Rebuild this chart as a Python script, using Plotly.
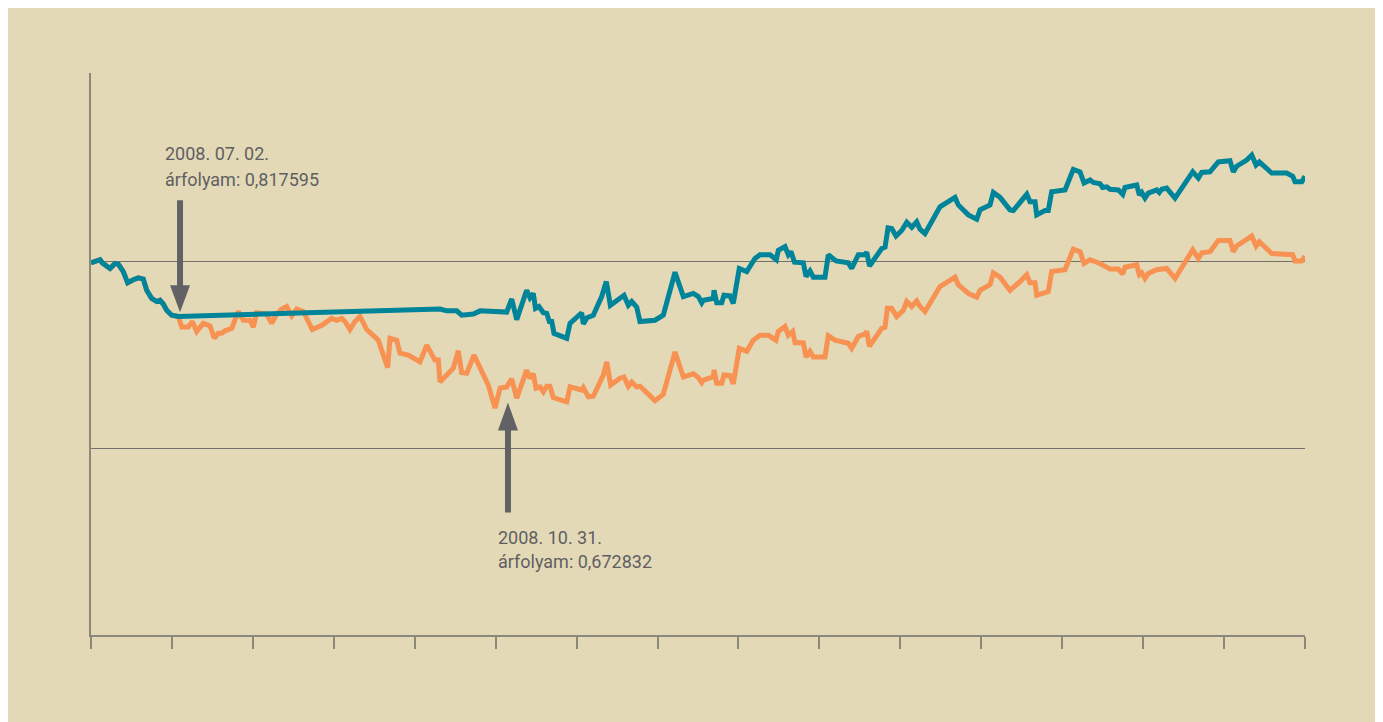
import plotly.graph_objects as go

# x: position along the time axis in tick intervals (0..15), y: exchange rate
orange_x = [0.000, 0.111, 0.140, 0.235, 0.297, 0.337, 0.399, 0.453, 0.523, 0.584, 0.646, 0.688, 0.750, 0.812, 0.853, 0.893, 0.935, 0.997,
            1.079, 1.121, 1.202, 1.252, 1.306, 1.388, 1.470, 1.524, 1.573, 1.615, 1.656, 1.739, 1.820, 1.882, 1.965, 2.005, 2.047, 2.109,
            2.171, 2.233, 2.295, 2.356, 2.418, 2.480, 2.542, 2.623, 2.685, 2.734, 2.851, 2.974, 3.036, 3.098, 3.138, 3.200, 3.262, 3.324,
            3.407, 3.550, 3.612, 3.666, 3.694, 3.777, 3.818, 3.921, 4.065, 4.148, 4.250, 4.291, 4.312, 4.477, 4.538, 4.580, 4.642, 4.732,
            4.909, 4.992, 5.054, 5.136, 5.198, 5.260, 5.383, 5.424, 5.465, 5.498, 5.548, 5.589, 5.631, 5.671, 5.712, 5.878, 5.919, 6.063,
            6.083, 6.145, 6.206, 6.330, 6.372, 6.421, 6.536, 6.586, 6.639, 6.681, 6.743, 6.783, 6.969, 7.031, 7.071, 7.216, 7.319, 7.442,
            7.504, 7.546, 7.566, 7.689, 7.698, 7.731, 7.793, 7.821, 7.896, 7.936, 8.010, 8.102, 8.183, 8.266, 8.369, 8.464, 8.492, 8.575,
            8.616, 8.670, 8.699, 8.801, 8.835, 8.884, 8.925, 9.069, 9.110, 9.193, 9.357, 9.399, 9.481, 9.564, 9.585, 9.617, 9.770, 9.811,
            9.839, 9.893, 9.955, 10.037, 10.079, 10.141, 10.202, 10.243, 10.305, 10.490, 10.676, 10.716, 10.840, 10.944, 10.985, 11.108,
            11.149, 11.232, 11.355, 11.479, 11.562, 11.602, 11.664, 11.685, 11.828, 11.870, 12.035, 12.137, 12.220, 12.270, 12.344, 12.467,
            12.550, 12.591, 12.694, 12.748, 12.776, 12.921, 12.953, 12.983, 13.023, 13.064, 13.168, 13.230, 13.291, 13.394, 13.613, 13.682,
            13.724, 13.826, 13.929, 14.073, 14.114, 14.156, 14.280, 14.342, 14.395, 14.436, 14.589, 14.774, 14.848, 14.877, 14.960, 15.000]
orange_y = [0.897, 0.902, 0.897, 0.888, 0.896, 0.895, 0.883, 0.865, 0.870, 0.873, 0.871, 0.853, 0.840, 0.835, 0.837, 0.831, 0.821, 0.813,
            0.811, 0.794, 0.794, 0.803, 0.787, 0.800, 0.796, 0.776, 0.784, 0.784, 0.788, 0.792, 0.819, 0.805, 0.805, 0.794, 0.817, 0.817,
            0.815, 0.800, 0.815, 0.823, 0.827, 0.812, 0.823, 0.819, 0.805, 0.790, 0.797, 0.808, 0.805, 0.808, 0.803, 0.790, 0.803, 0.811,
            0.790, 0.773, 0.749, 0.729, 0.776, 0.773, 0.752, 0.749, 0.738, 0.765, 0.741, 0.741, 0.706, 0.728, 0.756, 0.721, 0.720, 0.749,
            0.701, 0.664, 0.696, 0.698, 0.711, 0.680, 0.725, 0.712, 0.719, 0.696, 0.698, 0.690, 0.699, 0.699, 0.681, 0.674, 0.698, 0.693,
            0.697, 0.682, 0.683, 0.717, 0.738, 0.701, 0.712, 0.714, 0.699, 0.706, 0.698, 0.699, 0.676, 0.682, 0.686, 0.754, 0.714, 0.719,
            0.713, 0.705, 0.709, 0.714, 0.725, 0.704, 0.704, 0.717, 0.716, 0.703, 0.760, 0.755, 0.773, 0.781, 0.781, 0.773, 0.787, 0.795,
            0.781, 0.787, 0.769, 0.769, 0.746, 0.755, 0.746, 0.746, 0.780, 0.773, 0.768, 0.760, 0.779, 0.783, 0.787, 0.763, 0.792, 0.794,
            0.824, 0.824, 0.811, 0.821, 0.835, 0.827, 0.836, 0.827, 0.819, 0.859, 0.874, 0.862, 0.848, 0.842, 0.853, 0.862,
            0.881, 0.874, 0.853, 0.867, 0.878, 0.865, 0.865, 0.845, 0.851, 0.883, 0.886, 0.919, 0.915, 0.896, 0.902, 0.896,
            0.891, 0.887, 0.887, 0.879, 0.890, 0.894, 0.878, 0.881, 0.872, 0.880, 0.886, 0.887, 0.888, 0.872, 0.918, 0.904,
            0.913, 0.915, 0.933, 0.933, 0.915, 0.924, 0.934, 0.940, 0.924, 0.931, 0.912, 0.912, 0.910, 0.900, 0.900, 0.908]

blue_x = [0.000, 0.111, 0.140, 0.235, 0.297, 0.337, 0.399, 0.453, 0.523, 0.584, 0.646, 0.688, 0.750, 0.812, 0.853, 0.893, 0.935, 0.997,
          1.079, 4.312, 4.395, 4.519, 4.580, 4.724, 4.807, 5.094, 5.136, 5.198, 5.260, 5.383, 5.424, 5.465, 5.492, 5.535, 5.589, 5.631,
          5.663, 5.693, 5.721, 5.878, 5.919, 6.063, 6.083, 6.129, 6.206, 6.310, 6.367, 6.417, 6.536, 6.586, 6.639, 6.681, 6.743, 6.783,
          6.969, 7.031, 7.071, 7.216, 7.319, 7.442, 7.504, 7.546, 7.566, 7.689, 7.698, 7.731, 7.793, 7.821, 7.896, 7.936, 8.010, 8.102,
          8.204, 8.266, 8.390, 8.468, 8.492, 8.575, 8.616, 8.649, 8.692, 8.801, 8.835, 8.884, 8.925, 9.069, 9.110, 9.205, 9.357, 9.399,
          9.481, 9.564, 9.585, 9.619, 9.770, 9.811, 9.848, 9.893, 9.947, 10.017, 10.079, 10.141, 10.202, 10.243, 10.305, 10.490, 10.676,
          10.716, 10.840, 10.944, 10.985, 11.108, 11.149, 11.232, 11.355, 11.396, 11.479, 11.562, 11.602, 11.664, 11.685, 11.788, 11.828,
          11.870, 12.035, 12.137, 12.220, 12.270, 12.344, 12.384, 12.467, 12.500, 12.550, 12.591, 12.694, 12.748, 12.776, 12.921, 12.953,
          12.983, 13.023, 13.064, 13.168, 13.200, 13.230, 13.291, 13.394, 13.613, 13.682, 13.724, 13.826, 13.929, 14.073, 14.114, 14.156,
          14.280, 14.342, 14.395, 14.436, 14.589, 14.774, 14.848, 14.877, 14.960, 15.000]
blue_y = [0.897, 0.902, 0.897, 0.888, 0.896, 0.895, 0.883, 0.865, 0.870, 0.873, 0.871, 0.853, 0.840, 0.835, 0.837, 0.831, 0.821, 0.813,
          0.811, 0.823, 0.820, 0.820, 0.813, 0.815, 0.820, 0.819, 0.818, 0.839, 0.806, 0.853, 0.841, 0.848, 0.824, 0.827, 0.817, 0.816,
          0.803, 0.803, 0.784, 0.776, 0.800, 0.817, 0.799, 0.809, 0.813, 0.843, 0.867, 0.829, 0.841, 0.845, 0.829, 0.835, 0.826, 0.803,
          0.805, 0.811, 0.813, 0.882, 0.843, 0.848, 0.843, 0.833, 0.837, 0.840, 0.853, 0.833, 0.833, 0.845, 0.844, 0.832, 0.888, 0.883,
          0.904, 0.910, 0.910, 0.902, 0.917, 0.923, 0.910, 0.915, 0.898, 0.897, 0.875, 0.884, 0.874, 0.874, 0.910, 0.900, 0.897, 0.888,
          0.910, 0.910, 0.914, 0.892, 0.920, 0.922, 0.953, 0.952, 0.940, 0.949, 0.962, 0.954, 0.963, 0.951, 0.944, 0.987, 1.002,
          0.990, 0.974, 0.967, 0.982, 0.990, 1.010, 1.002, 0.982, 0.981, 0.995, 1.007, 0.995, 0.995, 0.974, 0.981, 0.981,
          1.011, 1.014, 1.047, 1.043, 1.025, 1.030, 1.026, 1.024, 1.018, 1.019, 1.015, 1.014, 1.007, 1.018, 1.022, 1.006,
          1.010, 1.001, 1.009, 1.014, 1.010, 1.015, 1.017, 1.001, 1.043, 1.033, 1.042, 1.043, 1.059, 1.061, 1.043, 1.052,
          1.062, 1.070, 1.054, 1.059, 1.041, 1.041, 1.036, 1.027, 1.027, 1.036]

tick_positions = list(range(16))
grid_values = [0.6, 0.9]

# annotated points
note1_x, note1_rate, note1_date = 1.100, 0.817595, "2008. 07. 02."
note2_x, note2_rate, note2_date = 5.152, 0.672832, "2008. 10. 31."

BG = "#E3D9B6"
AXIS = "#8C897A"
GRID = "#727069"
TEAL = "#00849A"
ORANGE = "#F79252"
DARK = "#626165"
TEXT = "#5F5F63"

fig = go.Figure()
fig.add_trace(go.Scatter(x=orange_x, y=orange_y, mode="lines",
                         line=dict(color=ORANGE, width=5), hoverinfo="skip", showlegend=False))
fig.add_trace(go.Scatter(x=blue_x, y=blue_y, mode="lines",
                         line=dict(color=TEAL, width=5), hoverinfo="skip", showlegend=False))

# arrows (pixel-sized paths anchored at the annotated rates)
fig.add_shape(type="path", xref="x", yref="y", xsizemode="pixel", ysizemode="pixel",
              xanchor=note1_x, yanchor=note1_rate,
              path="M-3,112 L3,112 L3,27 L10,27 L0,0 L-10,27 L-3,27 Z",
              fillcolor=DARK, line=dict(width=0))
fig.add_shape(type="path", xref="x", yref="y", xsizemode="pixel", ysizemode="pixel",
              xanchor=note2_x, yanchor=note2_rate,
              path="M-3,-110 L3,-110 L3,-28 L10,-28 L0,0 L-10,-28 L-3,-28 Z",
              fillcolor=DARK, line=dict(width=0))

font = dict(family="Roboto", size=18, color=TEXT)
fig.add_annotation(x=0.895, y=1.0717, xref="x", yref="y", text=note1_date, showarrow=False,
                   xanchor="left", yanchor="middle", font=font)
fig.add_annotation(x=0.895, y=1.0308, xref="x", yref="y",
                   text="árfolyam: " + f"{note1_rate:.6f}".replace(".", ","), showarrow=False,
                   xanchor="left", yanchor="middle", font=font)
fig.add_annotation(x=4.998, y=0.4572, xref="x", yref="y", text=note2_date, showarrow=False,
                   xanchor="left", yanchor="middle", font=font)
fig.add_annotation(x=4.998, y=0.4187, xref="x", yref="y",
                   text="árfolyam: " + f"{note2_rate:.6f}".replace(".", ","), showarrow=False,
                   xanchor="left", yanchor="middle", font=font)

fig.update_layout(
    width=1383, height=722,
    margin=dict(l=83, r=86, t=65, b=95),
    paper_bgcolor=BG, plot_bgcolor=BG,
    showlegend=False,
    xaxis=dict(range=[0, 15], showgrid=False, zeroline=False, showline=True, linecolor=AXIS, linewidth=1.5,
               ticks="outside", ticklen=12, tickwidth=1.5, tickcolor=AXIS,
               tickmode="array", tickvals=tick_positions, showticklabels=False, fixedrange=True),
    yaxis=dict(range=[0.3, 1.2016], showgrid=True, gridcolor=GRID, gridwidth=1, zeroline=False,
               showline=True, linecolor=AXIS, linewidth=1.5, ticks="",
               tickmode="array", tickvals=grid_values, showticklabels=False, fixedrange=True),
)

fig.write_html("out.html")
